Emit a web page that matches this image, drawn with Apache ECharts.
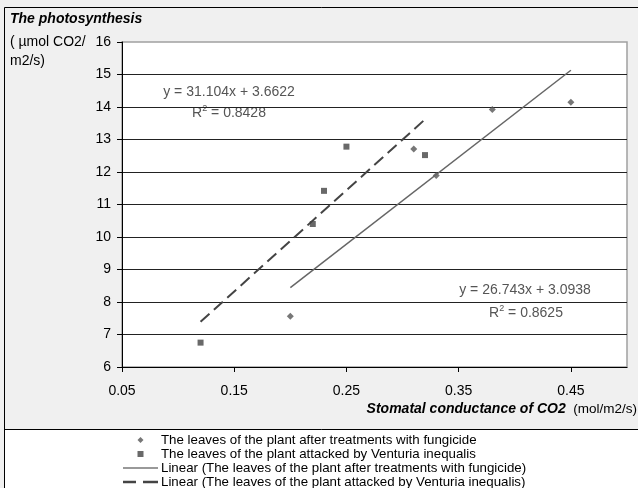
<!DOCTYPE html>
<html>
<head>
<meta charset="utf-8">
<script src="https://cdn.jsdelivr.net/npm/echarts@6/dist/echarts.min.js"></script>
<style>
  html, body { margin: 0; padding: 0; background: #fff; }
  #echart { width: 638px; height: 488px; }
</style>
</head>
<body>
<div id="echart"></div>
<script>
const font = "'Liberation Sans', Arial, sans-serif";

// x ticks shown on the axis
const xTicks = [0.05, 0.15, 0.25, 0.35, 0.45];

// [stomatal conductance, photosynthesis]
const fungicide = [[0.20, 7.56], [0.31, 12.71], [0.33, 11.89], [0.38, 13.92], [0.45, 14.15]];
const venturia = [[0.12, 6.75], [0.22, 10.40], [0.23, 11.42], [0.25, 12.78], [0.32, 12.52]];

// trendline end points as drawn
const fungicideTrend = [[0.20, 8.44], [0.45, 15.13]];
const venturiaTrend = [[0.12, 7.39], [0.32, 13.62]];

const names = [
  "The leaves of the plant after treatments with fungicide",
  "The leaves of the plant attacked by Venturia inequalis",
  "Linear (The leaves of the plant after treatments with fungicide)",
  "Linear (The leaves of the plant attacked by Venturia inequalis)"
];

// legend icons (keep aspect, centred in the 35px slot)
const icons = [
  "path://M3,0L6,3L3,6L0,3Z",
  "path://M0,0H5V5H0Z",
  "path://M0,0H35V1.5H0Z",
  "path://M0,0H13V2.5H0Z M20,0H35V2.5H20Z"
];

const axisText = { color: "#000", fontSize: 14, fontFamily: font };

const eqText = (x, y, text) => ({
  type: "text",
  x, y,
  style: {
    text,
    x: 0, y: 0,
    fill: "#555",
    font: "14px " + font,
    textAlign: "center",
    textVerticalAlign: "middle",
    rich: {
      s: { fontSize: 9, fontFamily: font, fill: "#555", padding: [0, 0, 8, 0] }
    }
  }
});

const options = {
  backgroundColor: "#f0f0f0",
  animation: false,
  grid: {
    show: true,
    left: 122,
    right: 11,
    top: 42,
    bottom: 121,
    backgroundColor: "#fff",
    borderColor: "#a0a0a0",
    borderWidth: 1.5
  },
  legend: {
    orient: "vertical",
    left: 123,
    top: 433,
    height: 100,
    padding: 0,
    itemWidth: 35,
    itemHeight: 6,
    itemGap: 0,
    selectedMode: false,
    textStyle: { color: "#000", fontSize: 13.3, lineHeight: 14, fontFamily: font, padding: [0, 0, 0, -2] },
    data: names.map((name, i) => ({ name, icon: icons[i] }))
  },
  xAxis: {
    type: "value",
    min: 0.05,
    max: 0.5,
    interval: 0.1,
    axisLine: { show: true, lineStyle: { color: "#000", width: 1 } },
    axisTick: { show: true, length: 5, customValues: xTicks, lineStyle: { color: "#000" } },
    axisLabel: {
      ...axisText,
      margin: 17,
      customValues: xTicks,
      formatter: v => v.toFixed(2)
    },
    splitLine: { show: false }
  },
  yAxis: {
    type: "value",
    min: 6,
    max: 16,
    interval: 1,
    axisLine: { show: true, lineStyle: { color: "#000", width: 1 } },
    axisTick: { show: true, length: 5, lineStyle: { color: "#000" } },
    axisLabel: { ...axisText, margin: 11 },
    splitLine: { show: true, showMinLine: false, showMaxLine: false, lineStyle: { color: "#222", width: 1 } }
  },
  series: [
    {
      name: names[0],
      type: "scatter",
      symbol: "diamond",
      symbolSize: 7,
      itemStyle: { color: "#555" },
      data: fungicide
    },
    {
      name: names[1],
      type: "scatter",
      symbol: "rect",
      symbolSize: 6,
      itemStyle: { color: "#444" },
      data: venturia
    },
    {
      name: names[2],
      type: "line",
      symbol: "none",
      silent: true,
      lineStyle: { color: "#666", width: 1.5 },
      itemStyle: { color: "#777" },
      data: fungicideTrend
    },
    {
      name: names[3],
      type: "line",
      symbol: "none",
      silent: true,
      lineStyle: { color: "#444", width: 2, type: [12, 6] },
      itemStyle: { color: "#444" },
      data: venturiaTrend
    }
  ],
  graphic: [
    {
      type: "rect",
      shape: { x: 4.5, y: 429.5, width: 640, height: 70 },
      style: { fill: "#fff", stroke: "#000", lineWidth: 1 }
    },
    {
      type: "rect",
      shape: { x: 4.5, y: 7.5, width: 640, height: 500 },
      style: { fill: "none", stroke: "#000", lineWidth: 1 }
    },
    {
      type: "text",
      x: 10, y: 19,
      style: { text: "The photosynthesis", fill: "#000", font: "italic bold 14px " + font, textVerticalAlign: "middle" }
    },
    {
      type: "text",
      x: 10, y: 42,
      style: { text: "( µmol CO2/", fill: "#000", font: "14px " + font, textVerticalAlign: "middle" }
    },
    {
      type: "text",
      x: 10, y: 61,
      style: { text: "m2/s)", fill: "#000", font: "14px " + font, textVerticalAlign: "middle" }
    },
    {
      type: "text",
      x: 637, y: 409,
      style: {
        text: "{b|Stomatal conductance of CO2}{n|  (mol/m2/s)}",
        textAlign: "right",
        textVerticalAlign: "middle",
        rich: {
          b: { fontSize: 14, fontWeight: "bold", fontStyle: "italic", fontFamily: font, fill: "#000" },
          n: { fontSize: 13.5, fontFamily: font, fill: "#000" }
        }
      }
    },
    eqText(229, 92, "y = 31.104x + 3.6622"),
    eqText(229, 113, "R{s|2} = 0.8428"),
    eqText(525, 290, "y = 26.743x + 3.0938"),
    eqText(526, 313, "R{s|2} = 0.8625")
  ]
};

const chart = echarts.init(document.getElementById("echart"));
chart.setOption(options);
</script>
</body>
</html>
